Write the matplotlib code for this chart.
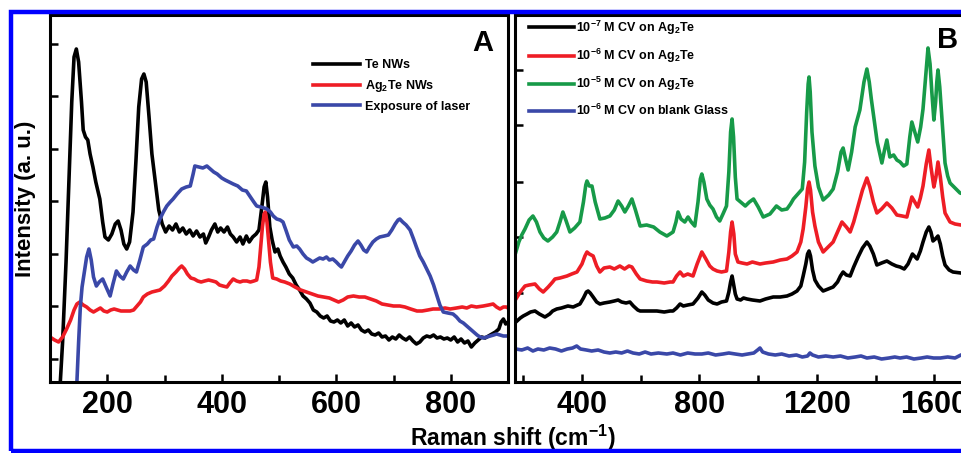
import matplotlib
matplotlib.use("Agg")
import matplotlib.pyplot as plt
from matplotlib.patches import Rectangle

plt.rcParams['font.family'] = ['Liberation Sans', 'DejaVu Sans']
plt.rcParams['font.weight'] = 'bold'
plt.rcParams['mathtext.fontset'] = 'custom'
plt.rcParams['mathtext.rm'] = 'Liberation Sans:bold'
plt.rcParams['mathtext.bf'] = 'Liberation Sans:bold'
plt.rcParams['mathtext.default'] = 'bf'

# ---- panel A : Raman spectra of nanowires (arbitrary units) ----
te_x = [118, 122, 128, 133, 138, 142, 146, 150, 155, 158, 162, 166, 170, 175, 180, 187, 192, 196,
        202, 208, 214, 219, 224, 229, 234, 239, 245, 250, 255, 260, 264, 268, 273, 278, 284, 290,
        296, 302, 308, 314, 320, 326, 332, 338, 344, 350, 356, 362, 368, 372, 377, 382, 388, 393,
        398, 404, 410, 415, 420, 426, 432, 437, 443, 448, 454, 460, 465, 470, 474, 477, 480, 484,
        488, 493, 498, 502, 507, 512, 518, 524, 530, 536, 542, 548, 554, 560, 566, 572, 578, 584,
        590, 596, 602, 608, 614, 620, 626, 632, 638, 644, 650, 656, 662, 668, 674, 680, 686, 692,
        698, 704, 710, 716, 722, 728, 734, 740, 746, 752, 758, 764, 770, 776, 782, 788, 794, 800,
        806, 812, 818, 824, 830, 836, 842, 848, 854, 860, 866, 872, 878, 884, 888, 892, 896, 900]
te_y = [0, 40, 120, 200, 280, 325, 333, 320, 280, 252, 245, 242, 228, 215, 200, 183, 160, 145,
        142, 148, 158, 161, 152, 138, 133, 140, 170, 220, 275, 303, 308, 300, 265, 228, 200, 172,
        158, 150, 156, 152, 158, 150, 154, 148, 152, 146, 151, 145, 148, 139, 145, 152, 158, 150,
        154, 150, 155, 148, 145, 140, 145, 138, 146, 140, 145, 148, 152, 175, 195, 200, 185, 155,
        142, 130, 133, 126, 120, 115, 108, 104, 97, 92, 86, 83, 79, 72, 70, 66, 64, 66,
        61, 60, 62, 59, 62, 56, 59, 55, 57, 52, 50, 52, 48, 47, 49, 45, 46, 42,
        45, 43, 47, 44, 42, 45, 41, 38, 40, 44, 46, 45, 47, 44, 45, 43, 44, 42,
        45, 40, 43, 39, 41, 35, 39, 42, 45, 44, 46, 48, 50, 53, 60, 63, 58, 60]

ag_x = [100, 108, 115, 122, 129, 136, 142, 147, 152, 158, 164, 170, 176, 182, 188, 194, 200, 206,
        212, 218, 224, 232, 240, 246, 252, 258, 263, 270, 278, 285, 292, 300, 307, 313, 320, 326,
        330, 335, 340, 346, 352, 358, 364, 370, 377, 384, 390, 396, 402, 409, 414, 420, 426, 432,
        437, 444, 450, 456, 461, 465, 468, 471, 474, 476, 479, 482, 485, 489, 496, 503, 510, 519,
        528, 538, 548, 558, 568, 578, 588, 596, 604, 612, 620, 630, 640, 650, 660, 670, 680, 690,
        700, 711, 720, 730, 741, 750, 760, 769, 780, 790, 799, 810, 820, 828, 836, 845, 857, 866,
        874, 880, 886, 892, 897, 900]
ag_y = [45, 42, 40, 45, 53, 62, 72, 78, 80, 77, 75, 72, 70, 72, 74, 71, 70, 72,
        73, 72, 71, 71, 71, 72, 76, 80, 85, 88, 90, 91, 92, 96, 101, 106, 110, 114,
        116, 113, 108, 104, 103, 101, 100, 101, 102, 101, 100, 97, 96, 95, 99, 103, 101, 100,
        101, 101, 100, 101, 102, 115, 135, 155, 168, 170, 160, 140, 120, 104, 103, 101, 100, 98,
        95, 92, 90, 88, 86, 85, 84, 82, 80, 82, 85, 86, 85, 85, 83, 81, 78, 77,
        76, 76, 75, 73, 71, 71, 72, 73, 73, 74, 73, 74, 75, 74, 76, 75, 76, 77,
        78, 75, 73, 75, 75, 74]

laser_x = [147, 150, 153, 156, 160, 164, 168, 172, 176, 181, 186, 192, 198, 205, 210, 216, 222, 228,
           234, 240, 246, 251, 257, 263, 270, 276, 281, 287, 292, 298, 304, 310, 315, 322, 330, 338,
           345, 350, 353, 360, 367, 374, 380, 386, 392, 400, 406, 413, 420, 428, 436, 443, 450, 456,
           461, 468, 474, 479, 485, 490, 496, 502, 507, 512, 518, 525, 531, 536, 542, 548, 554, 559,
           565, 571, 577, 583, 588, 594, 600, 605, 609, 614, 620, 626, 632, 638, 643, 648, 653, 658,
           664, 670, 676, 684, 691, 697, 703, 708, 711, 716, 722, 729, 735, 740, 746, 752, 758, 764,
           770, 776, 781, 787, 795, 804, 810, 816, 822, 828, 834, 840, 846, 851, 857, 863, 869, 875,
           880, 886, 892, 897, 900]
laser_y = [0, 40, 75, 95, 110, 125, 133, 122, 105, 96, 100, 103, 95, 86, 98, 111, 106, 103,
           110, 116, 112, 110, 122, 135, 138, 142, 143, 155, 163, 170, 176, 180, 183, 188, 193, 195,
           196, 208, 216, 215, 214, 216, 213, 210, 208, 204, 202, 200, 198, 196, 192, 191, 185, 180,
           176, 175, 174, 173, 170, 166, 163, 162, 160, 152, 142, 135, 136, 133, 128, 124, 122, 120,
           122, 124, 123, 125, 122, 123, 120, 117, 115, 120, 126, 131, 137, 141, 137, 132, 130, 135,
           140, 143, 145, 146, 147, 152, 158, 162, 163, 160, 157, 152, 143, 135, 126, 120, 113, 106,
           97, 86, 77, 70, 69, 68, 65, 61, 59, 56, 53, 50, 47, 45, 44, 45, 46, 47,
           48, 47, 46, 46, 46]

# ---- panel B : SERS spectra of crystal violet ----
cv7_x = [175, 190, 200, 213, 225, 240, 255, 274, 290, 300, 314, 330, 352, 370, 385, 393, 405, 415,
         421, 428, 438, 450, 461, 475, 495, 510, 523, 535, 550, 563, 575, 590, 598, 620, 640, 655,
         680, 700, 710, 722, 734, 745, 760, 778, 795, 808, 818, 830, 846, 860, 875, 892, 900, 906,
         911, 916, 922, 928, 940, 950, 962, 980, 1006, 1025, 1051, 1075, 1098, 1115, 1132, 1145, 1153, 1162,
         1168, 1173, 1178, 1185, 1193, 1205, 1221, 1238, 1255, 1270, 1280, 1289, 1300, 1313, 1325, 1340, 1355, 1370,
         1380, 1392, 1404, 1420, 1438, 1455, 1470, 1483, 1497, 1510, 1525, 1541, 1552, 1561, 1572, 1581, 1588, 1595,
         1603, 1612, 1620, 1628, 1636, 1650, 1663, 1690, 1710]
cv7_y = [60, 64, 66, 68, 70, 71, 68, 65, 68, 71, 73, 74, 76, 75, 77, 78, 84, 90,
         91, 89, 85, 80, 78, 79, 80, 81, 82, 80, 79, 80, 76, 72, 71, 71, 71, 71,
         70, 71, 71, 74, 78, 76, 77, 78, 84, 90, 87, 82, 79, 78, 80, 81, 90, 100,
         106, 98, 88, 83, 82, 84, 83, 82, 81, 83, 85, 85, 86, 88, 91, 96, 106, 118,
         128, 131, 126, 112, 102, 96, 91, 93, 95, 100, 106, 110, 107, 106, 115, 125, 134, 140,
         136, 128, 117, 119, 121, 118, 116, 115, 113, 118, 128, 123, 131, 140, 150, 155, 150, 141,
         143, 146, 138, 126, 117, 112, 110, 109, 109]

cv6_x = [175, 190, 206, 220, 240, 255, 268, 285, 300, 308, 325, 349, 365, 383, 400, 410, 417, 425,
         438, 450, 461, 475, 495, 510, 529, 545, 560, 570, 585, 598, 620, 640, 655, 680, 700, 710,
         722, 734, 745, 760, 778, 792, 808, 820, 835, 846, 860, 875, 892, 900, 906, 911, 917, 922,
         931, 945, 962, 980, 1006, 1025, 1051, 1075, 1098, 1115, 1132, 1145, 1153, 1162, 1168, 1173, 1178, 1185,
         1193, 1205, 1221, 1238, 1255, 1270, 1285, 1300, 1313, 1325, 1340, 1355, 1370, 1380, 1392, 1404,
         1420, 1438, 1455, 1472, 1490, 1506, 1523, 1543, 1552, 1561, 1572, 1581, 1588, 1598, 1605, 1612,
         1620, 1628, 1636, 1653, 1670, 1690, 1710]
cv6_y = [83, 90, 96, 97, 98, 93, 90, 95, 100, 103, 104, 106, 108, 110, 118, 126, 130, 128,
         126, 116, 110, 114, 115, 113, 116, 113, 116, 115, 108, 103, 101, 100, 100, 99, 100, 100,
         106, 110, 106, 108, 106, 118, 130, 124, 116, 113, 111, 110, 111, 130, 150, 160, 148, 128,
         120, 119, 118, 120, 118, 119, 120, 122, 123, 126, 130, 140, 153, 175, 193, 200, 192, 170,
         156, 140, 130, 135, 140, 150, 160, 155, 150, 160, 176, 192, 204, 195, 180, 169,
         173, 179, 174, 167, 166, 165, 185, 175, 184, 196, 218, 232, 215, 195, 205, 220,
         205, 185, 169, 160, 158, 157, 156]

cv5_x = [175, 185, 195, 206, 220, 233, 245, 257, 270, 284, 300, 314, 325, 335, 345, 359, 375, 393,
         405, 413, 417, 425, 434, 445, 461, 478, 495, 510, 523, 535, 546, 558, 570, 582, 598, 620,
         644, 665, 689, 710, 720, 727, 737, 750, 761, 772, 784, 795, 803, 808, 815, 825, 835, 846,
         858, 869, 880, 892, 900, 906, 911, 916, 922, 928, 940, 956, 970, 984, 1000, 1017, 1040, 1062,
         1080, 1098, 1110, 1120, 1135, 1150, 1158, 1165, 1170, 1173, 1177, 1183, 1193, 1205, 1221, 1240,
         1255, 1270, 1282, 1289, 1298, 1306, 1318, 1330, 1346, 1360, 1370, 1378, 1385, 1393, 1405, 1421,
         1430, 1438, 1448, 1461, 1472, 1483, 1495, 1506, 1516, 1523, 1533, 1543, 1553, 1561, 1570, 1578,
         1585, 1591, 1598, 1604, 1608, 1612, 1618, 1624, 1630, 1636, 1645, 1653, 1670, 1687, 1710]
cv5_y = [130, 140, 147, 153, 162, 166, 160, 150, 144, 141, 145, 150, 160, 170, 162, 150, 154, 160,
         180, 197, 201, 196, 196, 180, 163, 164, 166, 172, 181, 176, 170, 176, 183, 172, 156, 157,
         155, 150, 146, 150, 160, 170, 163, 160, 165, 160, 156, 180, 203, 208, 200, 183, 177, 173,
         165, 161, 168, 176, 210, 250, 263, 245, 205, 183, 180, 176, 180, 183, 175, 165, 168, 176,
         172, 173, 178, 183, 188, 193, 220, 270, 298, 305, 290, 250, 216, 195, 182, 187,
         193, 210, 230, 234, 222, 212, 230, 255, 272, 300, 313, 300, 283, 266, 240, 219,
         232, 242, 225, 227, 222, 220, 216, 218, 245, 260, 250, 240, 255, 273, 305, 334,
         318, 290, 262, 280, 300, 312, 295, 270, 245, 219, 206, 199, 194, 189, 187]

glass_x = [175, 195, 215, 233, 250, 270, 290, 310, 330, 350, 368, 382, 395, 415, 433, 455, 475, 495,
           515, 535, 555, 574, 595, 615, 635, 660, 689, 710, 735, 760, 785, 808, 830, 855, 880, 900,
           922, 945, 965, 985, 998, 1006, 1015, 1035, 1058, 1080, 1105, 1130, 1150, 1168, 1176, 1185, 1205, 1230,
           1255, 1280, 1305, 1330, 1350, 1370, 1395, 1420, 1445, 1465, 1483, 1505, 1530, 1555, 1575, 1597,
           1620, 1645, 1670, 1690, 1710]
glass_y = [33, 32, 34, 31, 33, 32, 34, 33, 31, 33, 34, 36, 33, 32, 31, 32, 30, 29,
           30, 29, 31, 29, 28, 30, 28, 29, 28, 29, 27, 29, 28, 28, 29, 27, 28, 29,
           28, 27, 28, 29, 32, 34, 30, 28, 27, 28, 26, 27, 25, 26, 29, 27, 25, 26,
           25, 26, 24, 25, 26, 24, 25, 23, 24, 25, 24, 25, 23, 24, 25, 24,
           24, 25, 24, 27, 28]

a_labels = ['Te NWs', r'Ag$_2$Te NWs', 'Exposure of laser']
b_labels = [r'10$^{-7}$ M CV on Ag$_2$Te', r'10$^{-6}$ M CV on Ag$_2$Te',
            r'10$^{-5}$ M CV on Ag$_2$Te', r'10$^{-6}$ M CV on blank Glass']
a_yticks = [23, 76, 128, 181, 233, 286, 338]
b_yticks = [33, 89, 145, 200, 257, 312]

BLACK = '#000000'
RED = '#ee1d25'
GREEN = '#179a48'
BLUE = '#3a48a8'

W, H = 961, 453
fig = plt.figure(figsize=(W / 100, H / 100), dpi=100)
fig.patch.set_facecolor('white')

axA = fig.add_axes([50 / W, 1 - 382 / H, 458 / W, 367 / H])
axB = fig.add_axes([515 / W, 1 - 382 / H, 460 / W, 367 / H])

lw = 2.6
axA.plot(te_x, te_y, color=BLACK, lw=lw, label=a_labels[0])
axA.plot(ag_x, ag_y, color=RED, lw=lw, label=a_labels[1])
axA.plot(laser_x, laser_y, color=BLUE, lw=lw, label=a_labels[2])

axB.plot(cv7_x, cv7_y, color=BLACK, lw=lw, label=b_labels[0])
axB.plot(cv6_x, cv6_y, color=RED, lw=lw, label=b_labels[1])
axB.plot(cv5_x, cv5_y, color=GREEN, lw=lw, label=b_labels[2])
axB.plot(glass_x, glass_y, color=BLUE, lw=lw, label=b_labels[3])

axA.set_xlim(100, 900)
axB.set_xlim(172, 1738)
for ax in (axA, axB):
    ax.set_ylim(0, 367)
    for s in ax.spines.values():
        s.set_linewidth(2.2)
    ax.tick_params(axis='both', which='both', direction='in', width=1.8,
                   top=False, right=False, labelleft=False)
    ax.tick_params(axis='both', which='major', length=6)
    ax.tick_params(axis='both', which='minor', length=5)
    ax.tick_params(axis='x', labelsize=22, pad=6)

axA.set_xticks([200, 400, 600, 800])
axA.set_xticks([100, 300, 500, 700, 900], minor=True)
axA.set_yticks(a_yticks)
axB.set_xticks([400, 800, 1200, 1600])
axB.set_xticks([200, 600, 1000, 1400], minor=True)
axB.set_yticks(b_yticks)
for ax in (axA, axB):
    for lab in ax.get_xticklabels():
        lab.set_fontweight('bold')

axA.set_ylabel('Intensity (a. u.)', fontsize=16, fontweight='bold')
axA.yaxis.set_label_coords(-0.03, 0.5)

axA.legend(loc='upper left', bbox_to_anchor=(0.575, 0.88), frameon=False,
           fontsize=9, handlelength=3.7, handletextpad=0.4, labelspacing=0.55,
           borderpad=0, borderaxespad=0)
axB.legend(loc='upper left', bbox_to_anchor=(0.03, 0.99), frameon=False,
           fontsize=9, handlelength=3.6, handletextpad=0.15, labelspacing=0.8,
           borderpad=0, borderaxespad=0)

axA.text(0.945, 0.924, 'A', transform=axA.transAxes, fontsize=21, fontweight='bold',
         ha='center', va='center')
axB.text(0.941, 0.932, 'B', transform=axB.transAxes, fontsize=21, fontweight='bold',
         ha='center', va='center')

fig.text(513 / W, 0.0, r'Raman shift (cm$^{-1}$)', fontsize=16.5, fontweight='bold',
         ha='center', va='bottom')

# blue frame round the whole figure (its right edge lies outside the picture)
fig.patches.append(Rectangle((10.5 / W, 2.5 / H), 970 / W, (450.5 - 11.5) / H,
                             transform=fig.transFigure, fill=False,
                             edgecolor='#0000ff', lw=3.2, clip_on=False, zorder=10))

fig.savefig('out.png', dpi=100)
